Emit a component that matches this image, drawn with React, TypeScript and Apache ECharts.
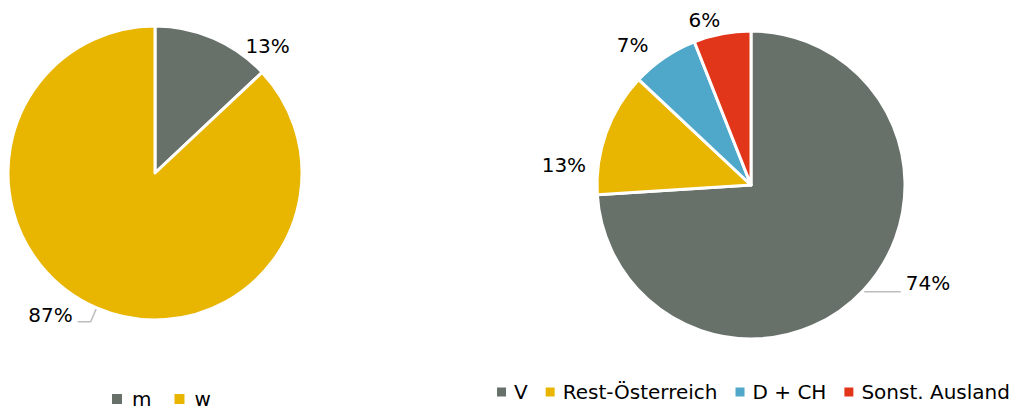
import React, { useEffect, useRef } from "react";
import * as echarts from "echarts";

const genderCategories = ["m", "w"];
const genderValues = [13, 87];
const originCategories = ["V", "Rest-Österreich", "D + CH", "Sonst. Ausland"];
const originValues = [74, 13, 7, 6];
const colors = ["#67716A", "#E8B500", "#4FA8C9", "#E2361A"];

// label nudges [dx, dy] and line visibility, per series / data index
const labelNudges = [
  [[27, 8], [0, -7]],
  [[0, -9], [-15, 32], [-11, -13], [3, -14]],
];
const genderLineShown = [false, true];
const originLineShown = [true, false, false, false];

const FONT = "DejaVu Sans";

export default function App() {
  const ref = useRef<HTMLDivElement>(null);
  useEffect(() => {
    const chart = echarts.init(ref.current!, null, { renderer: "svg" });
    const lineStyle = { color: "#BDBDBD", width: 1.5 };
    chart.setOption({
      animation: false,
      color: colors,
      textStyle: { fontFamily: FONT },
      legend: [
        {
          data: genderCategories,
          left: 110,
          top: 389,
          padding: 0,
          icon: "rect",
          itemWidth: 12,
          itemHeight: 12,
          itemGap: 21,
          formatter: "{a|{name}}",
          textStyle: {
            fontSize: 20,
            color: "#000",
            fontFamily: FONT,
            rich: {
              a: { fontSize: 20, lineHeight: 18, fontFamily: FONT, color: "#000", padding: [0, 0, 0, 4] },
            },
          },
        },
        {
          data: originCategories,
          left: 495,
          top: 382,
          width: 525,
          padding: 0,
          icon: "rect",
          itemWidth: 11,
          itemHeight: 11,
          itemGap: 16,
          formatter: "{a|{name}}",
          textStyle: {
            fontSize: 20,
            color: "#000",
            fontFamily: FONT,
            rich: {
              a: { fontSize: 20, lineHeight: 18, fontFamily: FONT, color: "#000", padding: [0, 0, 0, 2] },
            },
          },
        },
      ],
      series: [
        {
          type: "pie",
          center: [155, 173],
          radius: 147,
          startAngle: 90,
          clockwise: true,
          avoidLabelOverlap: false,
          data: genderCategories.map((n, i) => ({
            name: n,
            value: genderValues[i],
            itemStyle: { color: colors[i] },
            labelLine: genderLineShown[i]
              ? { show: true, length: 15, length2: 13 }
              : { show: false, length: 0, length2: 0 },
          })),
          itemStyle: { borderColor: "#fff", borderWidth: 3 },
          label: { formatter: "{c}%", fontSize: 20, color: "#000", fontFamily: FONT },
          labelLine: { lineStyle },
          labelLayout: (p: any) => {
            const d = labelNudges[0][p.dataIndex];
            return { dx: d[0], dy: d[1] };
          },
        },
        {
          type: "pie",
          center: [751, 185],
          radius: 154,
          startAngle: 90,
          clockwise: true,
          avoidLabelOverlap: false,
          data: originCategories.map((n, i) => ({
            name: n,
            value: originValues[i],
            itemStyle: { color: colors[i] },
            labelLine: originLineShown[i]
              ? { show: true, length: 2, length2: 36 }
              : { show: false, length: 0, length2: 0 },
          })),
          itemStyle: { borderColor: "#fff", borderWidth: 3 },
          label: { formatter: "{c}%", fontSize: 20, color: "#000", fontFamily: FONT },
          labelLine: { lineStyle },
          labelLayout: (p: any) => {
            const d = labelNudges[1][p.dataIndex];
            return { dx: d[0], dy: d[1] };
          },
        },
      ],
    });
    return () => chart.dispose();
  }, []);
  return (
    <div
      ref={ref}
      style={{ position: "absolute", left: 0, top: 0, width: 1020, height: 410 }}
    />
  );
}
